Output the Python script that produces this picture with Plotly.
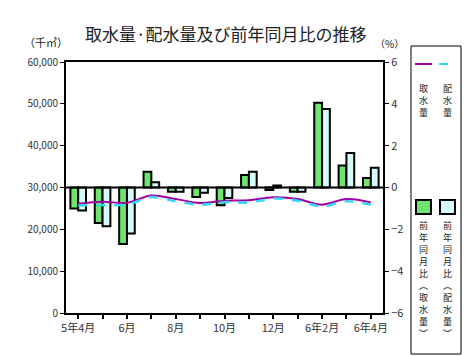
import plotly.graph_objects as go

# ---- data ----
months = ["5年4月", "5月", "6月", "7月", "8月", "9月", "10月", "11月", "12月",
          "6年1月", "6年2月", "3月", "6年4月"]
tick_labels = ["5年4月", "", "6月", "", "8月", "", "10月", "", "12月", "", "6年2月", "", "6年4月"]
intake = [26100, 26600, 26350, 28100, 27250, 26300, 26850, 26950, 27650, 27250, 25900, 27250, 26450]
distribution = [25700, 25800, 25900, 27700, 26700, 25900, 26500, 26400, 27350, 26850, 25500, 26700, 25900]
intake_yoy = [-1.0, -1.7, -2.7, 0.75, -0.2, -0.45, -0.85, 0.6, -0.12, -0.2, 4.05, 1.05, 0.45]
dist_yoy = [-1.1, -1.85, -2.2, 0.25, -0.2, -0.25, -0.5, 0.75, 0.1, -0.2, 3.75, 1.65, 0.95]
left_ticks = [0, 10000, 20000, 30000, 40000, 50000, 60000]
right_ticks = [-6, -4, -2, 0, 2, 4, 6]

W, H = 470, 356
L, R, T, B = 66, 383, 62, 313
FONT = "Noto Sans CJK JP"
GREEN = "#6fe46f"
CYAN_FILL = "#d4fafa"
PURPLE = "#a000a8"
CYAN_LINE = "#33d6ee"

def px(x):
    return (x - L) / (R - L)

def py(y):
    return (B - y) / (B - T)

xs = list(range(len(months)))

fig = go.Figure()
fig.add_trace(go.Bar(x=xs, y=intake_yoy, name="前年同月比（取水量）", yaxis="y",
                     marker=dict(color=GREEN, line=dict(color="black", width=2))))
fig.add_trace(go.Bar(x=xs, y=dist_yoy, name="前年同月比（配水量）", yaxis="y",
                     marker=dict(color=CYAN_FILL, line=dict(color="black", width=2))))
fig.add_trace(go.Scatter(x=xs, y=intake, name="取水量", yaxis="y2", mode="lines",
                         line=dict(color=PURPLE, width=2, shape="spline")))
fig.add_trace(go.Scatter(x=xs, y=distribution, name="配水量", yaxis="y2", mode="lines",
                         line=dict(color=CYAN_LINE, width=2.5, dash="dash", shape="spline")))

fig.update_layout(
    width=W, height=H,
    margin=dict(l=L, r=W - R, t=T, b=H - B, pad=0),
    paper_bgcolor="white", plot_bgcolor="white",
    showlegend=False,
    barmode="group", bargap=0.36, bargroupgap=0,
    font=dict(family=FONT, size=10, color="#333"),
    xaxis=dict(range=[-0.5, len(months) - 0.5], tickvals=xs, ticktext=tick_labels,
               showline=True, linecolor="black", linewidth=2, mirror=True,
               ticks="outside", ticklen=4, tickwidth=2, tickcolor="black",
               showgrid=False, zeroline=False, tickfont=dict(size=11, color="#333")),
    yaxis=dict(side="right", range=[-6, 6], tickvals=right_ticks,
               showline=True, linecolor="black", linewidth=2,
               ticks="outside", ticklen=4, tickwidth=1, tickcolor="black",
               showgrid=False, zeroline=False,
               tickfont=dict(size=11, color="#333")),
    yaxis2=dict(side="left", overlaying="y", range=[0, 60000], tickvals=left_ticks,
                tickformat=",", showline=True, linecolor="black", linewidth=2,
                ticks="outside", ticklen=4, tickwidth=1, tickcolor="black",
                showgrid=False, zeroline=False, tickfont=dict(size=10, color="#333")),
)

ann = []
ann.append(dict(x=px(226), y=py(33), xref="paper", yref="paper", xanchor="center", yanchor="middle",
                text="取水量·配水量及び前年同月比の推移",
                showarrow=False, font=dict(size=17, color="#222", family=FONT)))
ann.append(dict(x=px(46), y=py(42), xref="paper", yref="paper", xanchor="center", yanchor="middle",
                text="（千㎥）", showarrow=False, font=dict(size=11, color="#222", family=FONT)))
ann.append(dict(x=px(389), y=py(43), xref="paper", yref="paper", xanchor="center", yanchor="middle",
                text="（%）", showarrow=False, font=dict(size=10, color="#222", family=FONT)))

leg_font = dict(size=9, color="#222", family=FONT)

def vert(s, xc, ytop, step):
    for i, ch in enumerate(s):
        ann.append(dict(x=px(xc), y=py(ytop + i * step), xref="paper", yref="paper",
                        xanchor="center", yanchor="middle", text=ch, showarrow=False,
                        borderpad=0, font=leg_font))

vert("取水量", 423, 88, 12)
vert("配水量", 447, 88, 12)
vert("前年同月比︵取水量︶", 423, 225, 12)
vert("前年同月比︵配水量︶", 447, 225, 12)
fig.update_layout(annotations=ann)

shapes = [
    dict(type="line", xref="paper", yref="y", x0=0, x1=1, y0=0, y1=0,
         line=dict(color="black", width=2), layer="above"),
    dict(type="rect", xref="paper", yref="paper", x0=px(411), x1=px(461), y0=py(46), y1=py(354),
         line=dict(color="black", width=1), fillcolor="rgba(0,0,0,0)"),
    dict(type="line", xref="paper", yref="paper", x0=px(415), x1=px(432), y0=py(64), y1=py(64),
         line=dict(color=PURPLE, width=2)),
    dict(type="line", xref="paper", yref="paper", x0=px(439), x1=px(456), y0=py(64), y1=py(64),
         line=dict(color=CYAN_LINE, width=2, dash="dash")),
    dict(type="rect", xref="paper", yref="paper", x0=px(416), x1=px(431), y0=py(200), y1=py(214),
         line=dict(color="black", width=2), fillcolor=GREEN),
    dict(type="rect", xref="paper", yref="paper", x0=px(440), x1=px(455), y0=py(200), y1=py(214),
         line=dict(color="black", width=2), fillcolor=CYAN_FILL),
]
fig.update_layout(shapes=shapes)

fig.write_html("out.html", config={"displayModeBar": False},
               post_script="document.body.style.margin='0';document.body.style.padding='0';")
